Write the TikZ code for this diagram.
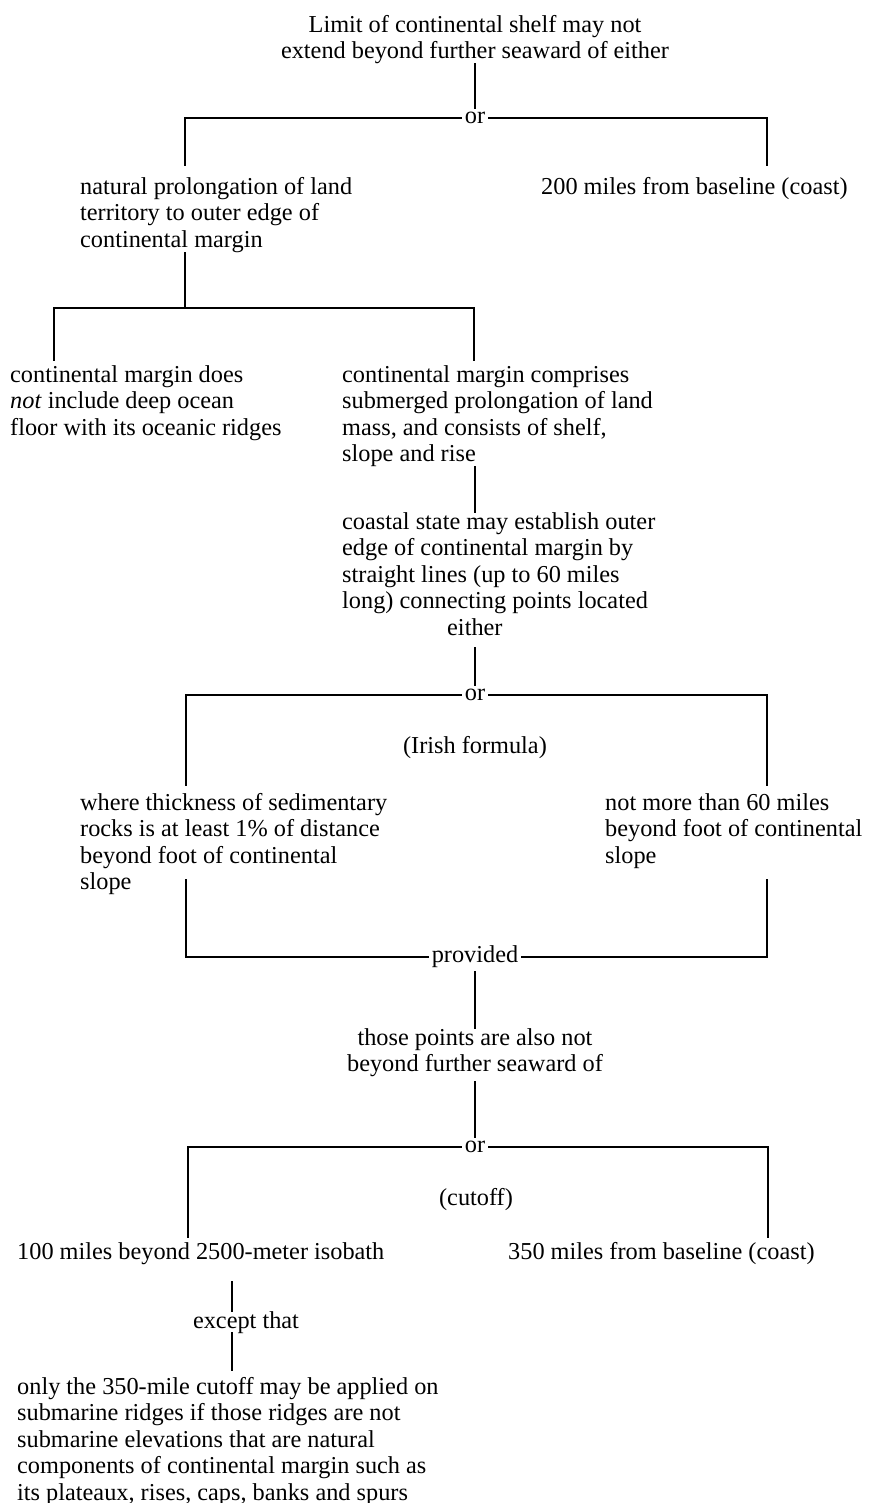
\documentclass[tikz,border=0pt]{standalone}
\usepackage{fontspec}
\setmainfont{Liberation Serif}
\newcommand{\fs}{\fontsize{24.3}{26.5}\selectfont}
\tikzset{
  txt/.style={inner sep=0pt, align=left, font=\fs},
  lab/.style={inner sep=4pt, font=\fs},
  ln/.style={line width=1.9pt, line cap=rect, line join=miter},
}
\begin{document}
\begin{tikzpicture}[x=1pt,y=-1pt]
\useasboundingbox (0,0) rectangle (871,1503);
\coordinate (cx) at (475,0);
\coordinate (dx) at (232,0);
% title
\node[txt, align=center, anchor=north] (t1) at (475,15) {Limit of continental shelf may not\\extend beyond further seaward of either};
\node[lab] (or1) at (475,118) {or};
\draw[ln] (t1.south) -- (or1.north);
\coordinate (a1) at (185,165);
\coordinate (a2) at (767,165);
\draw[ln] (or1.west) -| (a1);
\draw[ln] (or1.east) -| (a2);
\node[txt, anchor=north west] (n1) at (80,177) {natural prolongation of land\\territory to outer edge of\\continental margin};
\node[txt, anchor=north west] (n2) at (541,177) {200 miles from baseline (coast)};
% second split
\coordinate (j1) at (185,308);
\coordinate (a3) at (54,360);
\coordinate (a4) at (474,360);
\draw[ln] (n1.south -| j1) -- (j1);
\draw[ln] (a3) |- (j1) -| (a4);
\node[txt, anchor=north west] (n3) at (10,365) {continental margin does\\\textit{not} include deep ocean\\floor with its oceanic ridges};
\node[txt, anchor=north west] (n4) at (342,365) {continental margin comprises\\submerged prolongation of land\\mass, and consists of shelf,\\slope and rise};
\node[txt, anchor=north west] (n5) at (342,512) {coastal state may establish outer\\edge of continental margin by\\straight lines (up to 60 miles\\long) connecting points located\\\hspace*{105pt}either};
\draw[ln] (n4.south -| cx) -- (n5.north -| cx);
% third split (Irish formula)
\node[lab] (or2) at (475,695) {or};
\draw[ln, shorten <=12pt] (n5.south -| cx) -- (or2.north);
\coordinate (a5) at (186,785);
\coordinate (a6) at (767,785);
\draw[ln] (or2.west) -| (a5);
\draw[ln] (or2.east) -| (a6);
\node[txt, anchor=center] (ir) at (475,748) {(Irish formula)};
\node[txt, anchor=north west] (n6) at (80,793) {where thickness of sedimentary\\rocks is at least 1\% of distance\\beyond foot of continental\\slope};
\node[txt, anchor=north west] (n7) at (605,793) {not more than 60 miles\\beyond foot of continental\\slope};
\node[lab] (pr) at (475,957) {provided};
\coordinate (b1) at (186,880);
\coordinate (b2) at (767,880);
\draw[ln] (b1) |- (pr.west);
\draw[ln] (b2) |- (pr.east);
\node[txt, align=center, anchor=north] (n8) at (475,1028) {those points are also not\\beyond further seaward of};
\draw[ln] (pr.south) -- (n8.north);
% fourth split (cutoff)
\node[lab] (or3) at (475,1147) {or};
\draw[ln, shorten <=5pt] (n8.south) -- (or3.north);
\coordinate (a7) at (188,1237);
\coordinate (a8) at (768,1237);
\draw[ln] (or3.west) -| (a7);
\draw[ln] (or3.east) -| (a8);
\node[txt, anchor=center] (cu) at (476,1200) {(cutoff)};
\node[txt, anchor=north west] (n9) at (17,1242) {100 miles beyond 2500-meter isobath};
\node[txt, anchor=north west] (n10) at (508,1242) {350 miles from baseline (coast)};
\node[txt, anchor=base] (ex) at (246,1328) {except that};
\draw[ln, shorten <=17pt] (n9.south -| dx) -- (ex.north -| dx);
\node[txt, anchor=north west] (n11) at (17,1377) {only the 350-mile cutoff may be applied on\\submarine ridges if those ridges are not\\submarine elevations that are natural\\components of continental margin such as\\its plateaux, rises, caps, banks and spurs};
\draw[ln, shorten >=7pt] (ex.south -| dx) -- (n11.north -| dx);
\end{tikzpicture}
\end{document}
